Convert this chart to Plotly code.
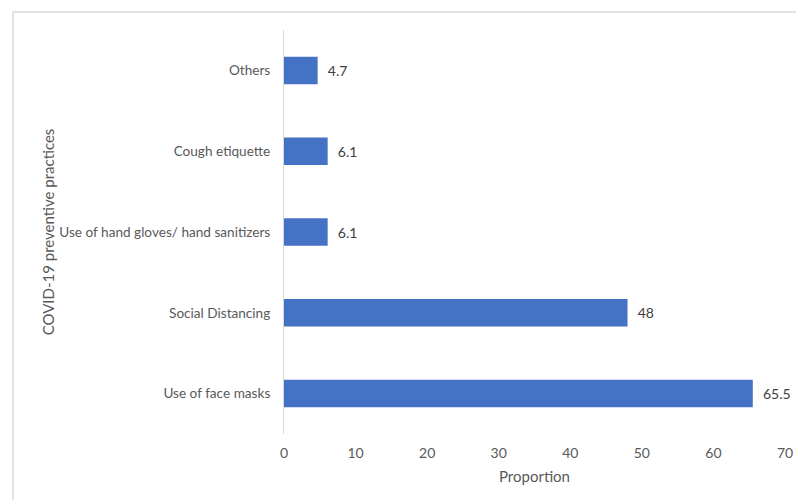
import plotly.graph_objects as go

categories = ["Use of face masks", "Social Distancing", "Use of hand gloves/ hand sanitizers",
              "Cough etiquette", "Others"]
values = [65.5, 48, 6.1, 6.1, 4.7]
value_labels = ["65.5", "48", "6.1", "6.1", "4.7"]
x_ticks = [0, 10, 20, 30, 40, 50, 60, 70]

FONT = "Lato, 'Open Sans', sans-serif"
GRAY = "#595959"

fig = go.Figure(go.Bar(
    y=categories, x=values, orientation="h",
    marker=dict(color="#4472C4", line=dict(color="#4472C4", width=0)),
    width=0.34,
    text=value_labels, texttemplate="  %{text}", textposition="outside", cliponaxis=False,
    textfont=dict(family=FONT, size=14, color="#404040"),
))

W, H = 796, 500
L, R, T, B = 284, 11, 30, 66
pw, ph = W - L - R, H - T - B

fig.update_layout(
    width=W, height=H,
    margin=dict(l=L, r=R, t=T, b=B),
    paper_bgcolor="white", plot_bgcolor="white",
    showlegend=False,
    font=dict(family=FONT, size=14, color=GRAY),
    xaxis=dict(range=[0, 70], tickvals=x_ticks, showgrid=False, zeroline=False,
               showline=False, ticks="", ticklabelstandoff=9, automargin=False,
               tickfont=dict(family=FONT, size=14, color=GRAY),
               title=dict(text="Proportion", standoff=11,
                          font=dict(family=FONT, size=15, color=GRAY))),
    yaxis=dict(showgrid=False, zeroline=False, showline=True, linecolor="#D9D9D9",
               linewidth=1, ticks="", ticklabelstandoff=10, automargin=False,
               tickfont=dict(family=FONT, size=13.6, color=GRAY),
               title=dict(text="COVID-19 preventive practices", standoff=1,
                          font=dict(family=FONT, size=15, color=GRAY))),
    shapes=[dict(type="rect", xref="paper", yref="paper",
                 x0=(13 - L) / pw, x1=(W + 5 - L) / pw,
                 y0=-(B + 5) / ph, y1=(H - 12 - B) / ph,
                 line=dict(color="#D9D9D9", width=1.5), layer="below")],
)

fig.write_html("out.html", config={"displayModeBar": False},
               post_script="document.body.style.margin='0px';document.body.style.overflow='hidden';")
